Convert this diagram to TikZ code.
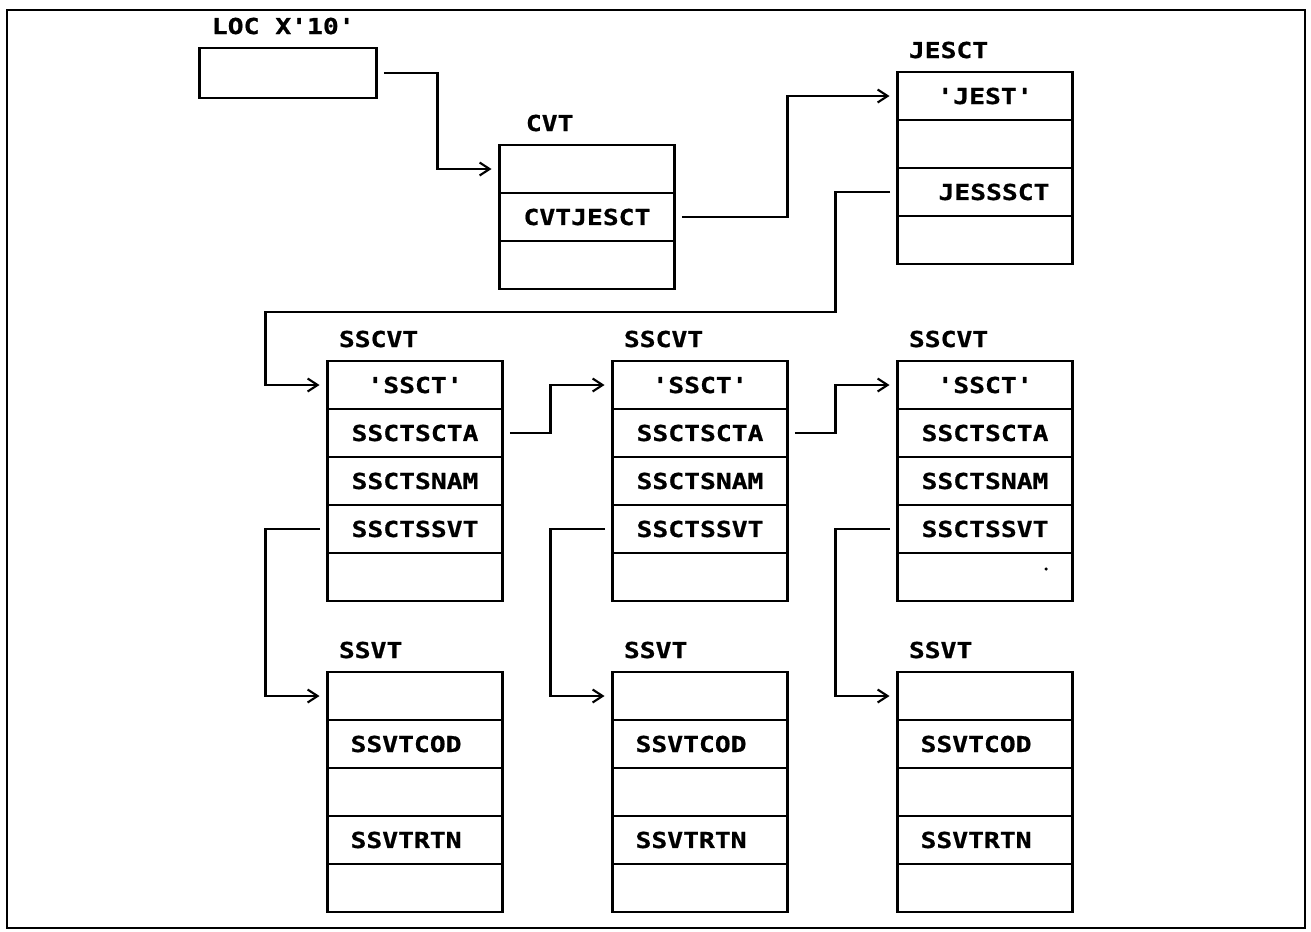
\documentclass[tikz,border=0pt]{standalone}
\usepackage{fontspec}
\usepackage{tikz}
\usetikzlibrary{arrows.meta,positioning}
\newfontfamily\cbfont[FakeStretch=1.2,FakeBold=0.8,Ligatures=TeXOff]{DejaVu Sans Mono Bold}

\begin{document}
\begin{tikzpicture}[
  x=0.02cm, y=-0.02cm,
  fld/.style={draw, rectangle, line width=1.1pt, outer sep=0pt, inner sep=0pt,
              minimum width=3.5cm, minimum height=0.96cm,
              font=\cbfont\fontsize{12.5}{15}\selectfont},
  fldl/.style={fld, inner xsep=0.46cm, text width=2.58cm, align=left},
  ttl/.style={anchor=base west, inner sep=0pt,
              font=\cbfont\fontsize{12.5}{15}\selectfont},
  frm/.style={line width=1.6pt},
  lnk/.style={line width=1.2pt, shorten <=0.15cm, shorten >=0.16cm},
  >={Straight Barb[length=0.2cm,width=0.26cm]}
]
\useasboundingbox (0,0) rectangle (1311,931);
\draw[line width=1.1pt] (7,10) rectangle (1305,928);

% pointer at X'10'
\node[fld, minimum width=3.54cm, minimum height=1cm, line width=1.6pt] (loc) at (288,73) {};
\node[ttl] (loct) at ([shift={(12,-14)}]loc.north west) {LOC X'10'};

% CVT
\node[fld] (cvt1) at (587,169) {};
\node[fld, below=0pt of cvt1] (cvt2) {CVTJESCT};
\node[fld, below=0pt of cvt2] (cvt3) {};
\draw[frm] (cvt1.north west) rectangle (cvt3.south east);
\node[ttl] (cvtt) at ([shift={(26,-14)}]cvt1.north west) {CVT};

% JESCT
\node[fld] (jes1) at (985,96) {'JEST'};
\node[fld, below=0pt of jes1] (jes2) {};
\node[fld, below=0pt of jes2] (jes3) {\hspace*{0.36cm}JESSSCT};
\node[fld, below=0pt of jes3] (jes4) {};
\draw[frm] (jes1.north west) rectangle (jes4.south east);
\node[ttl] (jest) at ([shift={(11,-14)}]jes1.north west) {JESCT};

% SSCVT chain
\node[fld] (sa1) at (415,385) {'SSCT'};
\node[fld, below=0pt of sa1] (sa2) {SSCTSCTA};
\node[fld, below=0pt of sa2] (sa3) {SSCTSNAM};
\node[fld, below=0pt of sa3] (sa4) {SSCTSSVT};
\node[fld, below=0pt of sa4] (sa5) {};
\draw[frm] (sa1.north west) rectangle (sa5.south east);
\node[ttl] (sat) at ([shift={(11,-14)}]sa1.north west) {SSCVT};

\node[fld] (sb1) at (700,385) {'SSCT'};
\node[fld, below=0pt of sb1] (sb2) {SSCTSCTA};
\node[fld, below=0pt of sb2] (sb3) {SSCTSNAM};
\node[fld, below=0pt of sb3] (sb4) {SSCTSSVT};
\node[fld, below=0pt of sb4] (sb5) {};
\draw[frm] (sb1.north west) rectangle (sb5.south east);
\node[ttl] (sbt) at ([shift={(11,-14)}]sb1.north west) {SSCVT};

\node[fld] (sc1) at (985,385) {'SSCT'};
\node[fld, below=0pt of sc1] (sc2) {SSCTSCTA};
\node[fld, below=0pt of sc2] (sc3) {SSCTSNAM};
\node[fld, below=0pt of sc3] (sc4) {SSCTSSVT};
\node[fld, below=0pt of sc4] (sc5) {};
\draw[frm] (sc1.north west) rectangle (sc5.south east);
\node[ttl] (sct) at ([shift={(11,-14)}]sc1.north west) {SSCVT};
\fill (1046,569) circle (0.035cm);

% SSVT
\node[fld] (va1) at (415,696) {};
\node[fldl, below=0pt of va1] (va2) {SSVTCOD};
\node[fld, below=0pt of va2] (va3) {};
\node[fldl, below=0pt of va3] (va4) {SSVTRTN};
\node[fld, below=0pt of va4] (va5) {};
\draw[frm] (va1.north west) rectangle (va5.south east);
\node[ttl] (vat) at ([shift={(11,-14)}]va1.north west) {SSVT};

\node[fld] (vb1) at (700,696) {};
\node[fldl, below=0pt of vb1] (vb2) {SSVTCOD};
\node[fld, below=0pt of vb2] (vb3) {};
\node[fldl, below=0pt of vb3] (vb4) {SSVTRTN};
\node[fld, below=0pt of vb4] (vb5) {};
\draw[frm] (vb1.north west) rectangle (vb5.south east);
\node[ttl] (vbt) at ([shift={(11,-14)}]vb1.north west) {SSVT};

\node[fld] (vc1) at (985,696) {};
\node[fldl, below=0pt of vc1] (vc2) {SSVTCOD};
\node[fld, below=0pt of vc2] (vc3) {};
\node[fldl, below=0pt of vc3] (vc4) {SSVTRTN};
\node[fld, below=0pt of vc4] (vc5) {};
\draw[frm] (vc1.north west) rectangle (vc5.south east);
\node[ttl] (vct) at ([shift={(11,-14)}]vc1.north west) {SSVT};

% pointers
\draw[lnk,->] (loc.east) -- ++(61,0) |- (cvt1.west);
\draw[lnk,->] (cvt2.east) -- ++(113,0) |- (jes1.west);
\draw[lnk,->] (jes3.west) -- ++(-62,0) |- ++(-570,120) |- (sa1.west);
\draw[lnk,->] (sa2.east) -- ++(48,0) |- (sb1.west);
\draw[lnk,->] (sb2.east) -- ++(48,0) |- (sc1.west);
\draw[lnk,->] (sa4.west) -- ++(-62,0) |- (va1.west);
\draw[lnk,->] (sb4.west) -- ++(-62,0) |- (vb1.west);
\draw[lnk,->] (sc4.west) -- ++(-62,0) |- (vc1.west);
\end{tikzpicture}
\end{document}
